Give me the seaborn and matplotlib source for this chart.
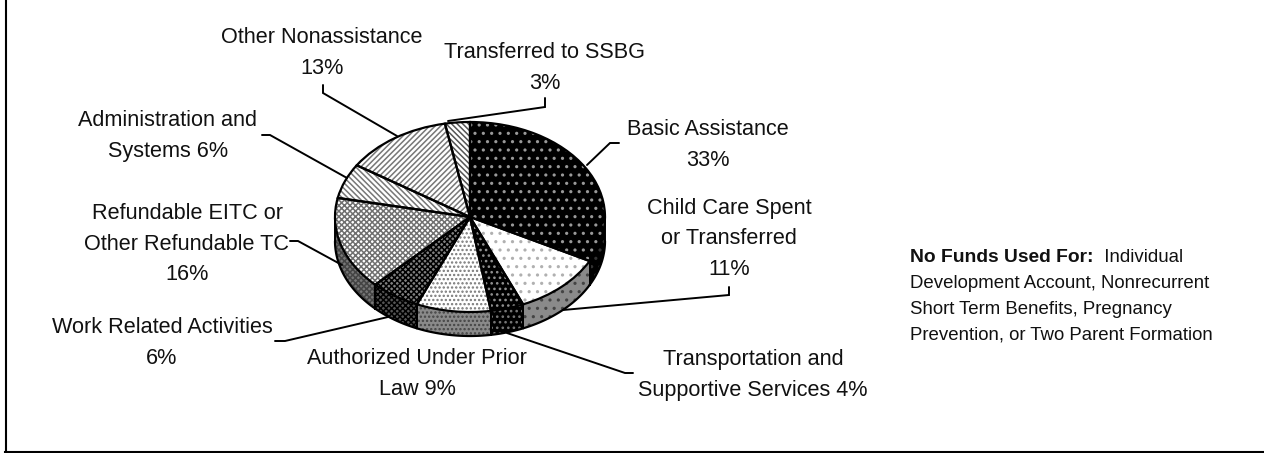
import numpy as np
import matplotlib
matplotlib.use('Agg')
import matplotlib.pyplot as plt
import seaborn as sns

W, H = 1264, 453

# Data
categories = ['Basic Assistance', 'Child Care Spent or Transferred', 'Transportation and Supportive Services',
              'Authorized Under Prior Law', 'Work Related Activities', 'Refundable EITC or Other Refundable TC',
              'Administration and Systems', 'Other Nonassistance', 'Transferred to SSBG']
values = [33, 11, 4, 9, 6, 16, 6, 13, 3]

# Styles, one per slice: face, hatch colour, hatch
top_face = ['black', 'white', 'black', 'white', '#808080', 'white', 'white', 'white', 'white']
top_ink = ['#999999', '#b0b0b0', '#909090', '#777777', 'black', '#707070', '#777777', '#777777', '#555555']
top_hatch = ['..', '..', '...', '....', 'xxxxxx', 'xxxxxx', '\\\\\\\\\\\\', '//////', '\\\\\\\\\\\\']
side_face = ['black', '#8a8a8a', 'black', '#8a8a8a', '#555555', '#777777', 'white', 'white', 'white']
side_ink = ['#333333', '#444444', '#777777', '#444444', 'black', '#444444', 'black', 'black', 'black']
side_hatch = ['..', '..', '...', '....', 'xxxxxx', 'xxxxxx', '', '', '']

# Labels: text, x centre, y centre of each line block, in pixels
labels = [
    ('Basic Assistance\n33%', 708, 145),
    ('Child Care Spent\nor Transferred\n11%', 729, 239),
    ('Transportation and\nSupportive Services 4%', 753, 375),
    ('Authorized Under Prior\nLaw 9%', 417, 374),
    ('Work Related Activities\n6%', 162, 343),
    ('Refundable EITC or\nOther Refundable TC\n16%', 187, 244),
    ('Administration and\nSystems 6%', 168, 136),
    ('Other Nonassistance\n13%', 322, 53),
    ('Transferred to SSBG\n3%', 545, 68),
]
leaders = [
    [(619, 143), (610, 143), (587, 165)],
    [(729, 287), (729, 295), (563, 310)],
    [(633, 373), (625, 373), (507, 333)],
    [(275, 341), (285, 341), (388, 317)],
    [(290, 241), (298, 241), (342, 265)],
    [(262, 135), (270, 135), (347, 178)],
    [(323, 85), (323, 93), (397, 136)],
    [(545, 98), (545, 107), (448, 121)],
]
note_lines = ['Development Account, Nonrecurrent', 'Short Term Benefits, Pregnancy',
              'Prevention, or Two Parent Formation']

sns.set_theme(style='white')
plt.rcParams['font.family'] = ['Liberation Sans', 'DejaVu Sans']
plt.rcParams['hatch.linewidth'] = 1.1

fig = plt.figure(figsize=(W / 100, H / 100), dpi=100)

# pie geometry in pixels
cx, cy, rx, ry, depth = 470, 217, 135, 95, 24

ax = fig.add_axes([0, 0, 1, 1])
wedges, _ = ax.pie(values, startangle=90, counterclock=False, radius=1)
for w, fc, ink, ht in zip(wedges, top_face, top_ink, top_hatch):
    w.set_facecolor(fc)
    w.set_edgecolor(ink)
    w.set_hatch(ht)
    w.set_linewidth(0)
    w.set_zorder(3)
outline, _ = ax.pie(values, startangle=90, counterclock=False, radius=1)
for w in outline:
    w.set_facecolor('none')
    w.set_edgecolor('black')
    w.set_linewidth(1.6)
    w.set_zorder(4)
ax.set_aspect('auto')
ax.set_xlim(-cx / rx, (W - cx) / rx)
ax.set_ylim(-(H - cy) / ry, cy / ry)

# side wall of the pie, only the front half shows
d = depth / ry
shares = np.cumsum([0] + values) / sum(values)
for i in range(len(values)):
    a0 = np.pi / 2 - 2 * np.pi * shares[i]
    a1 = np.pi / 2 - 2 * np.pi * shares[i + 1]
    lo = max(a1, -np.pi)
    hi = min(a0, 0)
    if lo >= hi:
        continue
    t = np.linspace(lo, hi, 60)
    x = np.cos(t)
    y = np.sin(t)
    ax.fill_between(x, y - d, y, facecolor=side_face[i], edgecolor=side_ink[i], hatch=side_hatch[i],
                    linewidth=0, zorder=2)
    ax.plot(x, y - d, color='black', lw=1.6, zorder=2.5)
    ax.plot([x[0], x[0]], [y[0], y[0] - d], color='black', lw=1.4, zorder=2.5)
    ax.plot([x[-1], x[-1]], [y[-1], y[-1] - d], color='black', lw=1.4, zorder=2.5)

# overlay in pixel coordinates, keeps the left and bottom rule as spines
ov = fig.add_axes([5.5 / W, 1.5 / H, 1 - 5.5 / W, 1 - 1.5 / H], facecolor='none')
ov.set_xlim(5.5, W)
ov.set_ylim(H - 1.5, 0)
ov.set_xticks([])
ov.set_yticks([])
sns.despine(ax=ov, top=True, right=True)
for s in ['left', 'bottom']:
    ov.spines[s].set_color('black')
    ov.spines[s].set_linewidth(1.5)

for txt, x, y in labels:
    ov.text(x, y, txt, ha='center', va='center', fontsize=15.6, color='#111111', linespacing=1.6, zorder=6)
for pts in leaders:
    ov.plot([p[0] for p in pts], [p[1] for p in pts], color='black', lw=1.4, zorder=5,
            solid_joinstyle='miter')

bold = ov.text(910, 257, 'No Funds Used For:', fontsize=13.9, fontweight='bold', va='center', ha='left', color='#111111')
ov.annotate('  Individual', xy=(1, 0), xycoords=bold, va='bottom', ha='left', fontsize=13.4, color='#111111')
for i, line in enumerate(note_lines):
    ov.text(910, 283 + i * 26, line, fontsize=13.4, va='center', ha='left', color='#111111')

fig.savefig('out.png', dpi=100)
